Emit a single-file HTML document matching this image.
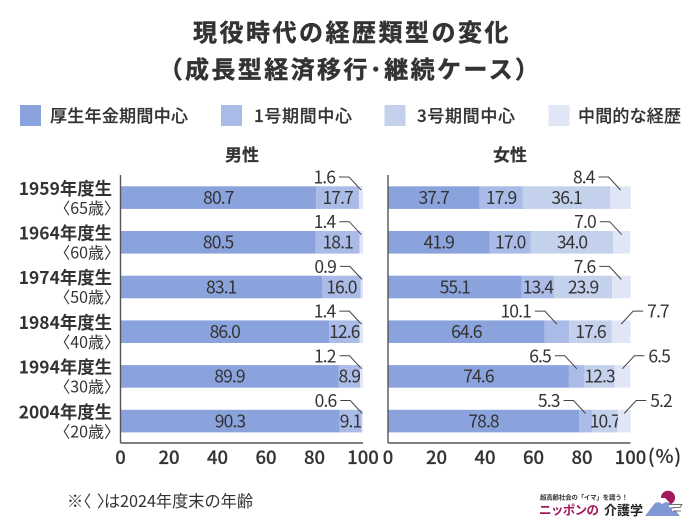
<!DOCTYPE html>
<html lang="ja">
<head>
<meta charset="utf-8">
<title>現役時代の経歴類型の変化</title>
<style>
html,body{margin:0;padding:0;background:#fff;width:700px;height:525px;overflow:hidden}
svg{display:block}
text{font-family:"Noto Sans CJK JP","Liberation Sans",sans-serif;fill:#333}
.heavy{stroke:#333;stroke-width:.45px}
.semi{stroke:#333;stroke-width:.2px}
</style>
</head>
<body>
<svg id="chart" width="700" height="525" viewBox="0 0 700 525" xmlns="http://www.w3.org/2000/svg">
  <text class="heavy" x="352" y="41" text-anchor="middle" font-size="24" font-weight="700" letter-spacing="2.500">現役時代の経歴類型の変化</text>
  <text class="heavy" x="350" y="78" text-anchor="middle" font-size="24" font-weight="700" letter-spacing="2.400">（成長型経済移行･継続ケース）</text>

  <rect x="20" y="105" width="21" height="21" fill="#8ba3dc"/>
  <text class="semi" x="50" y="122" font-size="17" font-weight="500" textLength="138">厚生年金期間中心</text>
  <rect x="221" y="105" width="21" height="21" fill="#a9bbe6"/>
  <text class="semi" x="254" y="122" font-size="17" font-weight="500" textLength="98">1号期間中心</text>
  <rect x="384.500" y="105" width="21" height="21" fill="#c4d1ed"/>
  <text class="semi" x="417" y="122" font-size="17" font-weight="500" textLength="98">3号期間中心</text>
  <rect x="548.500" y="105" width="21" height="21" fill="#e0e6f6"/>
  <text class="semi" x="578" y="122" font-size="17" font-weight="500" textLength="103">中間的な経歴</text>

  <text class="semi" x="242" y="161" text-anchor="middle" font-size="17" font-weight="700">男性</text>
  <text class="semi" x="510" y="161" text-anchor="middle" font-size="17" font-weight="700">女性</text>

  <g id="plot"></g>

  <text class="semi" x="665" y="463" text-anchor="middle" font-size="19" font-weight="500" letter-spacing="1">(%)</text>
  <text y="507" font-size="16.200"><tspan x="67">※</tspan><tspan x="75">〈</tspan><tspan x="97">〉</tspan><tspan x="104">は</tspan><tspan x="120">2024年度末の年齢</tspan></text>

  <g>
    <text x="540" y="499.500" font-size="6.500" font-weight="700" textLength="88">超高齢社会の「イマ」を識う！</text>
    <text x="539" y="514.500" font-size="12.500" font-weight="700" style="fill:#a2195f" textLength="60">ニッポンの</text>
    <text x="604" y="515" font-size="13" font-weight="700" style="fill:#222" textLength="39">介護学</text>
    <circle cx="668" cy="497.700" r="7" fill="#a2195f"/>
    <polygon points="645,516 659,498 665,498 680,516" fill="#7f97d2"/>
    <polygon points="655,503 659,498 665,498 670,503 666,502 662,504 659,502" fill="#fff"/>
    <path d="M669 506h13M672 510h8" stroke="#fff" stroke-width="2.500" fill="none"/>
    <path d="M669 504.500h13l-2 3h-7M673 511h8" stroke="#444" stroke-width=".7" fill="none"/>
  </g>
</svg>

<script>
const cohorts = ['1959年度生', '1964年度生', '1974年度生', '1984年度生', '1994年度生', '2004年度生'];
const ages = ['〈65歳〉', '〈60歳〉', '〈50歳〉', '〈40歳〉', '〈30歳〉', '〈20歳〉'];
const tickLabels = [0, 20, 40, 60, 80, 100];

const maleEmployee = [80.7, 80.5, 83.1, 86.0, 89.9, 90.3];
const maleType1 = [17.7, 18.1, 16.0, 12.6, 8.9, 9.1];
const maleType3 = [0, 0, 0, 0, 0, 0];
const maleIntermediate = [1.6, 1.4, 0.9, 1.4, 1.2, 0.6];

const femaleEmployee = [37.7, 41.9, 55.1, 64.6, 74.6, 78.8];
const femaleType1 = [17.9, 17.0, 13.4, 10.1, 6.5, 5.3];
const femaleType3 = [36.1, 34.0, 23.9, 17.6, 12.3, 10.7];
const femaleIntermediate = [8.4, 7.0, 7.6, 7.7, 6.5, 5.2];

// Which labels sit outside the bar: 'L' = leader to the left, 'R' = leader to the right, '' = inside
const maleType1Callout = ['', '', '', '', '', ''];
const maleIntermediateCallout = ['L', 'L', 'L', 'L', 'L', 'L'];
const femaleType1Callout = ['', '', '', 'L', 'L', 'L'];
const femaleIntermediateCallout = ['L', 'L', 'L', 'R', 'R', 'R'];

const seriesColors = ['#8ba3dc', '#a9bbe6', '#c4d1ed', '#e0e6f6'];
const seriesKeys = ['employee-pension', 'type-1', 'type-3', 'intermediate'];

const plot = document.getElementById('plot');
const NS = 'http://www.w3.org/2000/svg';
const bandStart = 186.3;
const bandStep = 44.7;
const barHeight = 22.6;

function make(tag, attrs) {
  const el = document.createElementNS(NS, tag);
  for (const k in attrs) el.setAttribute(k, attrs[k]);
  plot.appendChild(el);
  return el;
}
function yBand(i) { return bandStart + bandStep * i; }
function fmt(v) { return v.toFixed(1); }

function drawPanel(panel, axisX, series, callouts) {
  const xScale = v => axisX + v * 2.425;

  cohorts.forEach((c, i) => {
    const top = yBand(i);
    let acc = 0;
    series.forEach((vals, s) => {
      const v = vals[i];
      if (v <= 0) return;
      const seg = make('rect', { x: xScale(acc), y: top, width: v * 2.425, height: barHeight, fill: seriesColors[s] });
      
      
      const mid = xScale(acc + v / 2);
      const side = callouts[s] ? callouts[s][i] : '';
      if (side) {
        const tipY = top + 3.7;
        const baseY = top - 9.3;
        const dir = side === 'L' ? -1 : 1;
        const line = make('polyline', {
          points: mid + ',' + tipY + ' ' + (mid + dir * 12) + ',' + baseY + ' ' + (mid + dir * 22) + ',' + baseY,
          fill: 'none', stroke: '#444', 'stroke-width': 1
        });
        
        
        const lab = make('text', {
          x: mid + dir * 26, y: baseY + 6.5, 'text-anchor': side === 'L' ? 'end' : 'start',
          'font-size': 17.5, 'letter-spacing': -0.9
        });
        lab.textContent = fmt(v);
        
        
      } else {
        const lab = make('text', {
          x: mid, y: top + 17.6, 'text-anchor': 'middle', 'font-size': 17.5, 'letter-spacing': -0.9
        });
        lab.textContent = fmt(v);
        
        
      }
      acc += v;
    });
  });

  const yAxis = make('line', { x1: axisX, x2: axisX, y1: 175, y2: 443, stroke: '#555', 'stroke-width': 1.4 });
  
  
  const xAxis = make('line', { x1: axisX, x2: xScale(100), y1: 443, y2: 443, stroke: '#555', 'stroke-width': 1.4 });
  
  

  tickLabels.forEach(t => {
    const lab = make('text', { x: xScale(t), y: 464, 'text-anchor': 'middle', 'font-size': 18.5, 'font-weight': 500 });
    lab.textContent = t;
    
    
    lab.setAttribute('class', 'semi');
  });
}

cohorts.forEach((c, i) => {
  const top = yBand(i);
  const a = make('text', { x: 112, y: top + 8.5, 'text-anchor': 'end', 'font-size': 17.4, 'font-weight': 700 });
  a.textContent = c;
  
  
  const b = make('text', { x: 120, y: top + 27.5, 'text-anchor': 'end', 'font-size': 16 });
  b.textContent = ages[i];
  
  
});

drawPanel('male', 120.5, [maleEmployee, maleType1, maleType3, maleIntermediate],
  [null, maleType1Callout, null, maleIntermediateCallout]);
drawPanel('female', 388, [femaleEmployee, femaleType1, femaleType3, femaleIntermediate],
  [null, femaleType1Callout, null, femaleIntermediateCallout]);
</script>
</body>
</html>
